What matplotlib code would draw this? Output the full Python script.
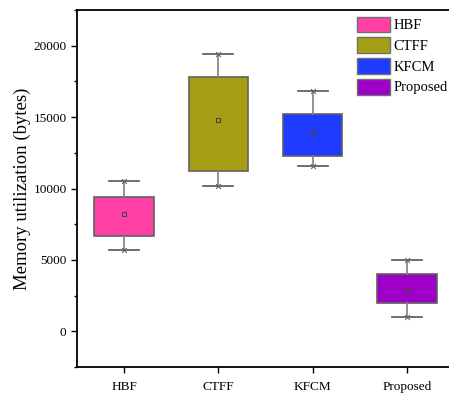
import matplotlib
matplotlib.use("Agg")
import matplotlib.pyplot as plt
from matplotlib.patches import Patch

categories = ["HBF", "CTFF", "KFCM", "Proposed"]
whislo = [5700, 10200, 11600, 1000]
q1 = [6650, 11250, 12300, 2000]
q3 = [9400, 17800, 15200, 4000]
whishi = [10500, 19400, 16800, 5000]
means = [8200, 14800, 13900, 2900]
colors = ["#FF40A4", "#A69E14", "#1F3BFF", "#9E00C8"]

plt.rcParams['font.family'] = ['Liberation Serif', 'DejaVu Serif']

fig = plt.figure(figsize=(4.49, 3.96), dpi=100)
ax = fig.add_axes([77/449, 29/396, 377/449, 357/396])

stats = []
for i, c in enumerate(categories):
    stats.append(dict(label=c, whislo=whislo[i], q1=q1[i], med=(q1[i]+q3[i])/2,
                      q3=q3[i], whishi=whishi[i], mean=means[i], fliers=[]))
pos = list(range(1, len(categories)+1))
bp = ax.bxp(stats, positions=pos, widths=0.63, patch_artist=True, showmeans=True,
            showfliers=False,
            boxprops=dict(edgecolor="#606060", linewidth=1.2),
            whiskerprops=dict(color="#808080", linewidth=1.2),
            capprops=dict(color="#555555", linewidth=1.2),
            medianprops=dict(linewidth=0, color="none"),
            meanprops=dict(marker="s", markersize=3.5, markerfacecolor="none",
                           markeredgecolor="#444444", markeredgewidth=0.8))
for b, col in zip(bp['boxes'], colors):
    b.set_facecolor(col)
for cap in bp['caps']:
    x0, x1 = cap.get_xdata()
    cx = (x0 + x1) / 2
    cap.set_xdata([cx - 0.16, cx + 0.16])
# end markers
ax.scatter(pos, whishi, marker="x", s=12, color="#666666", linewidths=0.8, zorder=5)
ax.scatter(pos, whislo, marker="x", s=12, color="#666666", linewidths=0.8, zorder=5)

ax.set_xlim(0.5, 4.5)
ax.set_ylim(-2500, 22500)
ax.set_yticks([0, 5000, 10000, 15000, 20000])
ax.set_yticks([-2500, 2500, 7500, 12500, 17500, 22500], minor=True)
ax.set_xticks(pos)
ax.set_xticklabels(categories, fontsize=9.5)
ax.tick_params(axis='y', labelsize=9.5, direction='out', length=4, width=1)
ax.tick_params(axis='y', which='minor', direction='out', length=2.5, width=1)
ax.tick_params(axis='x', direction='out', length=4, width=1, pad=6)
for s in ['left', 'bottom', 'top']:
    ax.spines[s].set_linewidth(1.3)
ax.spines['right'].set_visible(False)
ax.set_ylabel("Memory utilization (bytes)", fontsize=13.5, labelpad=2)

handles = [Patch(facecolor=c, edgecolor="#707070", linewidth=1) for c in colors]
fig.legend(handles, categories, loc="upper right", bbox_to_anchor=(1.0, 0.962),
           frameon=False, fontsize=10.5, handlelength=2.3, handleheight=1.3,
           handletextpad=0.2, labelspacing=0.33, borderaxespad=0.0, borderpad=0.1)

fig.savefig("out.png", dpi=100)
